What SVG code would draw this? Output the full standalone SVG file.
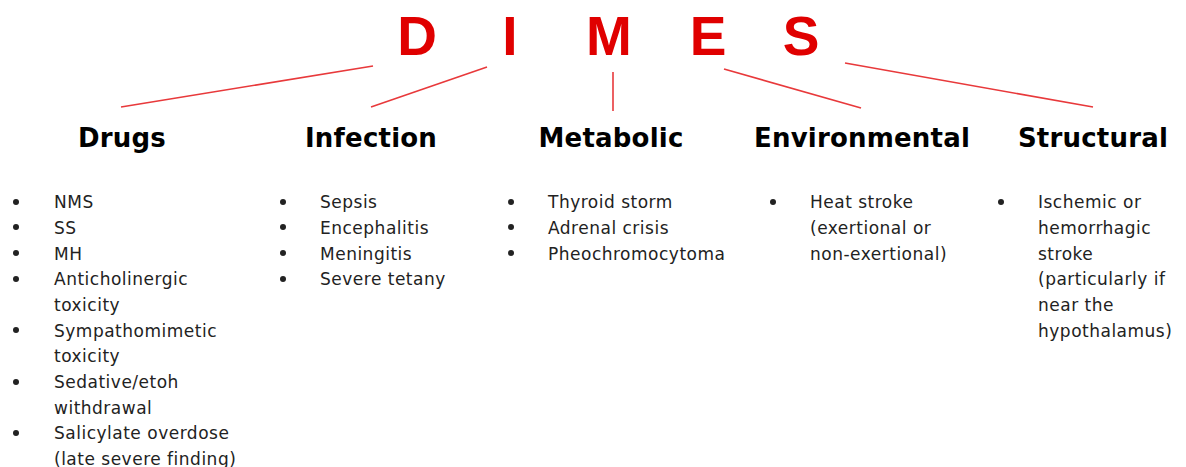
<svg xmlns="http://www.w3.org/2000/svg" width="1186" height="467" viewBox="0 0 1186 467">
<style>
.t{font-family:"Liberation Sans",Arial,sans-serif;font-weight:700;font-size:55px;fill:#e00000;text-anchor:middle}
.h{font-family:"DejaVu Sans",sans-serif;font-weight:700;font-size:26px;letter-spacing:0.2px;fill:#000;text-anchor:middle}
.b{font-family:"DejaVu Sans",sans-serif;font-size:17px;letter-spacing:0.5px;fill:#222}
.c line{stroke:#e8393b;stroke-width:1.6}
</style>
<rect width="1186" height="467" fill="#fff"/>
<g id="title">
<text class="t" x="417" y="55">D</text>
<text class="t" x="510" y="55">I</text>
<text class="t" x="609" y="55">M</text>
<text class="t" x="708" y="55">E</text>
<text class="t" x="801" y="55">S</text>
</g>
<g class="c" id="connectors">
<line x1="373" y1="66" x2="121" y2="107"/>
<line x1="487" y1="67" x2="371" y2="107"/>
<line x1="613" y1="72" x2="613" y2="111"/>
<line x1="724" y1="69" x2="861" y2="108"/>
<line x1="845" y1="63" x2="1093" y2="107"/>
</g>
<g id="drugs">
<text class="h" x="122" y="147">Drugs</text>
<g class="b">
<circle cx="16" cy="202" r="3"/><circle cx="16" cy="227" r="3"/><circle cx="16" cy="253" r="3"/><circle cx="16" cy="279" r="3"/><circle cx="16" cy="330" r="3"/><circle cx="16" cy="382" r="3"/><circle cx="16" cy="433" r="3"/>
<text x="54" y="208">NMS</text>
<text x="54" y="234">SS</text>
<text x="54" y="260">MH</text>
<text x="54" y="285">Anticholinergic</text>
<text x="54" y="311">toxicity</text>
<text x="54" y="337">Sympathomimetic</text>
<text x="54" y="362">toxicity</text>
<text x="54" y="388">Sedative/etoh</text>
<text x="54" y="414">withdrawal</text>
<text x="54" y="439">Salicylate overdose</text>
<text x="54" y="465">(late severe finding)</text>
</g>
</g>
<g id="infection">
<text class="h" x="371" y="147">Infection</text>
<g class="b">
<circle cx="283" cy="202" r="3"/><circle cx="283" cy="227" r="3"/><circle cx="283" cy="253" r="3"/><circle cx="283" cy="279" r="3"/>
<text x="320" y="208">Sepsis</text>
<text x="320" y="234">Encephalitis</text>
<text x="320" y="260">Meningitis</text>
<text x="320" y="285">Severe tetany</text>
</g>
</g>
<g id="metabolic">
<text class="h" x="611" y="147">Metabolic</text>
<g class="b">
<circle cx="511" cy="202" r="3"/><circle cx="511" cy="227" r="3"/><circle cx="511" cy="253" r="3"/>
<text x="548" y="208">Thyroid storm</text>
<text x="548" y="234">Adrenal crisis</text>
<text x="548" y="260">Pheochromocytoma</text>
</g>
</g>
<g id="environmental">
<text class="h" x="862" y="147">Environmental</text>
<g class="b">
<circle cx="773" cy="202" r="3"/>
<text x="810" y="208">Heat stroke</text>
<text x="810" y="234">(exertional or</text>
<text x="810" y="260">non-exertional)</text>
</g>
</g>
<g id="structural">
<text class="h" x="1093" y="147">Structural</text>
<g class="b">
<circle cx="1001" cy="202" r="3"/>
<text x="1038" y="208">Ischemic or</text>
<text x="1038" y="234">hemorrhagic</text>
<text x="1038" y="260">stroke</text>
<text x="1038" y="285">(particularly if</text>
<text x="1038" y="311">near the</text>
<text x="1038" y="337">hypothalamus)</text>
</g>
</g>
</svg>
